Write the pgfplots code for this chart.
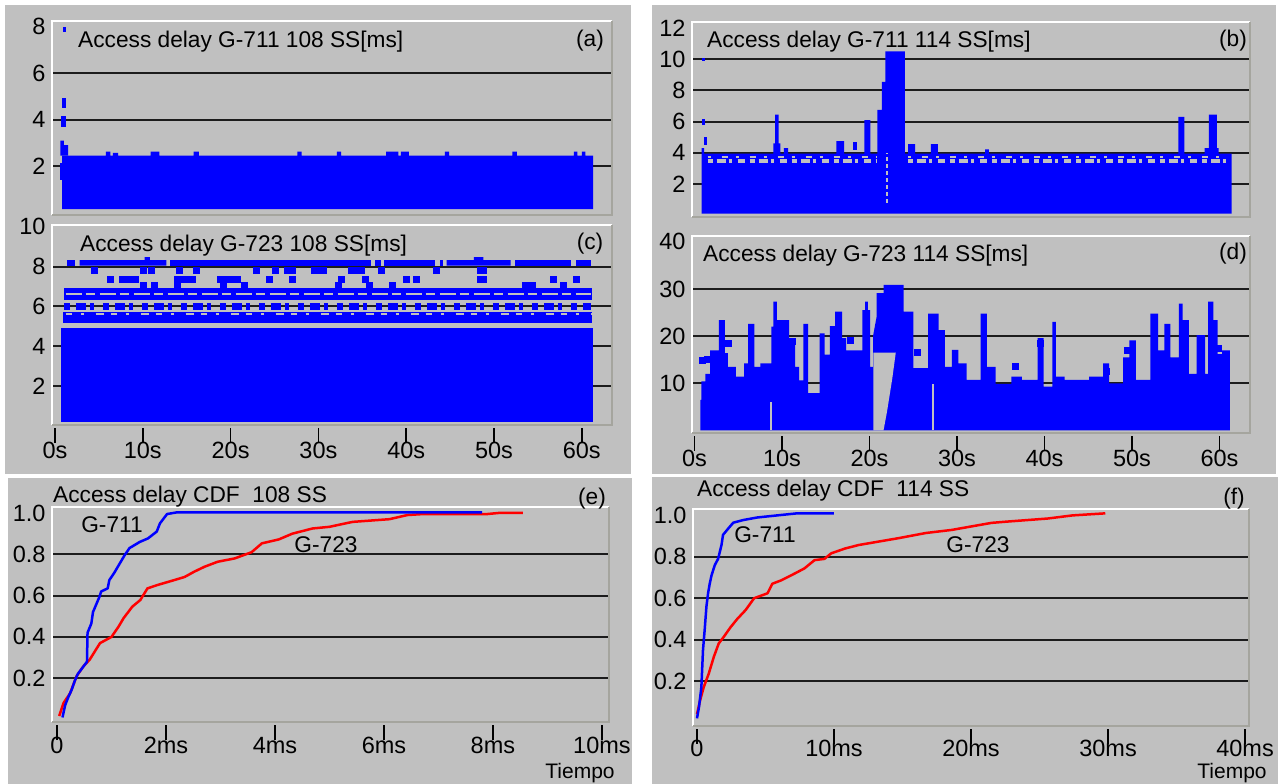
\documentclass[border=0pt]{standalone}
\usepackage{fontspec}
\setmainfont{Liberation Sans}
\usepackage{pgfplots}
\pgfplotsset{compat=1.18}
\definecolor{bg}{RGB}{192,192,192}
\definecolor{gridc}{RGB}{28,28,28}
\definecolor{fr}{RGB}{165,165,158}
\definecolor{pblue}{RGB}{0,0,255}
\definecolor{pred}{RGB}{255,0,0}
\newcommand\ttl{\fontsize{22.7}{26}\selectfont}
\newcommand\tkl{\fontsize{23.5}{27}\selectfont}
\pgfplotsset{
  panel/.style={
    scale only axis, clip=false,
    axis line style={draw=none},
    tick label style={font=\tkl, text=black},
    /pgf/number format/assume math mode=true,
    ytick style={draw=none},
    xtick pos=left,
    xtick style={draw=black, line width=1.5pt, yshift=-18pt},
    major tick length=15pt,
    yticklabel style={xshift=-3pt},
    extra y tick labels={},
    extra y tick style={grid=major, major tick length=0pt},
    grid style={draw=gridc, line width=2pt},
    execute at end axis={
      \draw[white, line width=1.6pt] (rel axis cs:0,0) -- (rel axis cs:0,1) -- (rel axis cs:1,1);
      \draw[fr, line width=1.6pt] (rel axis cs:1,1) -- (rel axis cs:1,0) -- (rel axis cs:0,0);
    },
  },
  blk/.style={fill=pblue, draw=none, forget plot},
  gap/.style={fill=bg, draw=none, forget plot},
}
\begin{document}
\begin{tikzpicture}[x=1pt,y=1pt]
\useasboundingbox (0,0) rectangle (1282,784);
\fill[white] (0,0) rectangle (1282,784);
\fill[bg] (5,779) rectangle (631,310);
\fill[bg] (8,306) rectangle (632,0);
\fill[bg] (652,779) rectangle (1276,310);
\fill[bg] (652,307) rectangle (1278,0);

% ---------------- (a)
\begin{axis}[panel, at={(52pt,569pt)}, anchor=south west, width=560pt, height=194pt,
  xmin=-0.34, xmax=63.44, ymin=-0.1, ymax=8.24,
  xtick=\empty, ytick={2,4,6,8}, extra y ticks={2,4,6}]
\addplot[blk] coordinates {(0.8,0.15)(0.8,2.45)(5.8,2.45)(5.8,2.62)(6.3,2.62)(6.3,2.45)(6.6,2.45)(6.6,2.57)(7.2,2.57)(7.2,2.45)(10.9,2.45)(10.9,2.62)(11.9,2.62)(11.9,2.45)(15.8,2.45)(15.8,2.62)(16.4,2.62)(16.4,2.45)(27.6,2.45)(27.6,2.62)(28.1,2.62)(28.1,2.45)(32.1,2.45)(32.1,2.62)(32.6,2.62)(32.6,2.45)(37.7,2.45)(37.7,2.62)(39.1,2.62)(39.1,2.45)(39.4,2.45)(39.4,2.62)(40.3,2.62)(40.3,2.45)(44.4,2.45)(44.4,2.62)(44.9,2.62)(44.9,2.45)(52.1,2.45)(52.1,2.62)(52.6,2.62)(52.6,2.45)(59.1,2.45)(59.1,2.62)(59.5,2.62)(59.5,2.45)(60.0,2.45)(60.0,2.62)(60.4,2.62)(60.4,2.45)(61.3,2.45)(61.3,0.15)};
\addplot[blk] coordinates {(0.55,1.4)(0.55,2.15)(0.85,2.15)(0.85,1.4)};
\addplot[blk] coordinates {(0.6,2.45)(0.6,3.1)(1.0,3.1)(1.0,2.9)(1.5,2.9)(1.5,2.45)};
\addplot[blk] coordinates {(0.7,3.7)(0.7,4.15)(1.2,4.15)(1.2,3.7)};
\addplot[blk] coordinates {(0.8,4.5)(0.8,4.95)(1.3,4.95)(1.3,4.5)};
\addplot[blk] coordinates {(0.9,7.75)(0.9,8.0)(1.2,8.0)(1.2,7.75)};
\end{axis}

% ---------------- (c)
\begin{axis}[panel, at={(52pt,359pt)}, anchor=south west, width=560pt, height=200pt,
  xmin=-0.34, xmax=63.44, ymin=0.04, ymax=10.09,
  xtick={0,10,20,30,40,50,60}, xticklabels={0s,10s,20s,30s,40s,50s,60s},
  xticklabel style={yshift=-14pt},
  ytick={2,4,6,8,10}, extra y ticks={2,4,6,8}]
\addplot[blk] coordinates {(0.7,0.2)(0.7,4.9)(61.3,4.9)(61.3,0.2)};
\addplot[blk] coordinates {(0.9,5.15)(0.9,5.72)(61.2,5.72)(61.2,5.15)};
\addplot[bg, line width=2.5pt, dash pattern=on 6pt off 9pt on 3pt off 12pt on 8pt off 7pt, forget plot] coordinates {(1.2,5.62)(61.0,5.62)};
\addplot[pblue, line width=7pt, dash pattern=on 6pt off 6pt on 10pt off 4pt on 4pt off 9pt, forget plot] coordinates {(1.0,5.98)(61.0,5.98)};
\addplot[blk] coordinates {(1.0,6.32)(1.0,6.9)(61.2,6.9)(61.2,6.32)};
\addplot[bg, line width=2.5pt, dash pattern=on 16pt off 4pt on 9pt off 5pt, forget plot] coordinates {(1.2,6.62)(61.0,6.62)};
\addplot[only marks, mark=square*, mark size=3pt, pblue, forget plot] coordinates {
(4.43,7.83)(10.0,7.83)(11.0,7.83)(14.2,7.83)(16.05,7.83)(22.9,7.83)(25.1,7.83)(26.5,7.83)(27.0,7.83)(29.5,7.83)(30.0,7.83)(30.5,7.83)(33.7,7.83)(34.2,7.83)(34.9,7.83)(37.2,7.83)(43.4,7.83)(48.4,7.83)(48.8,7.83)
(6.29,7.36)(7.7,7.36)(8.4,7.36)(9.08,7.36)(13.96,7.36)(14.6,7.36)(15.2,7.36)(15.6,7.36)(18.8,7.36)(19.4,7.36)(20.0,7.36)(20.7,7.36)(24.4,7.36)(27.0,7.36)(32.55,7.36)(35.3,7.36)(40.0,7.36)(41.15,7.36)(48.4,7.36)(48.8,7.36)(56.7,7.36)(59.4,7.36)
(10.0,7.05)(11.3,7.05)(13.96,7.05)(19.2,7.05)(21.5,7.05)(32.3,7.05)(35.8,7.05)(38.4,7.05)(53.5,7.05)(54.4,7.05)(57.9,7.05)};
\addplot[blk] coordinates {(1.4,8.05)(1.4,8.33)(2.3,8.33)(2.3,8.05)};
\addplot[blk] coordinates {(2.8,8.05)(2.8,8.33)(10.2,8.33)(10.2,8.48)(10.8,8.48)(10.8,8.33)(12.7,8.33)(12.7,8.05)};
\addplot[blk] coordinates {(13.1,8.05)(13.1,8.33)(36.0,8.33)(36.0,8.05)};
\addplot[blk] coordinates {(36.5,8.05)(36.5,8.33)(37.1,8.33)(37.1,8.05)};
\addplot[blk] coordinates {(37.5,8.05)(37.5,8.33)(43.3,8.33)(43.3,8.05)};
\addplot[blk] coordinates {(43.8,8.05)(43.8,8.33)(44.2,8.33)(44.2,8.05)};
\addplot[blk] coordinates {(44.6,8.05)(44.6,8.33)(47.7,8.33)(47.7,8.48)(48.8,8.48)(48.8,8.33)(51.9,8.33)(51.9,8.05)};
\addplot[blk] coordinates {(52.4,8.05)(52.4,8.33)(58.8,8.33)(58.8,8.05)};
\addplot[blk] coordinates {(59.3,8.05)(59.3,8.33)(61.0,8.33)(61.0,8.05)};
\end{axis}

% ---------------- (b)
\begin{axis}[panel, at={(692pt,567pt)}, anchor=south west, width=558pt, height=195pt,
  xmin=-0.29, xmax=63.49, ymin=-0.12, ymax=12.39,
  xtick=\empty, ytick={2,4,6,8,10,12}, extra y ticks={2,4,6,8,10}]
\addplot[blk] coordinates {(0.8,0.1)(0.8,4.3)(1.1,4.3)(1.1,3.95)(9.0,3.95)(9.0,4.6)(9.2,4.6)(9.2,6.45)(9.6,6.45)(9.6,4.6)(9.8,4.6)(9.8,3.95)(10.2,3.95)(10.2,4.3)(10.7,4.3)(10.7,3.95)(16.2,3.95)(16.2,4.75)(17.1,4.75)(17.1,3.95)(19.4,3.95)(19.4,6.1)(20.1,6.1)(20.1,3.95)(20.9,3.95)(20.9,6.75)(21.4,6.75)(21.4,8.55)(21.8,8.55)(21.8,10.5)(24.05,10.5)(24.05,3.95)(24.4,3.95)(24.4,4.55)(25.2,4.55)(25.2,3.95)(27.0,3.95)(27.0,4.55)(27.8,4.55)(27.8,3.95)(33.2,3.95)(33.2,4.22)(33.65,4.22)(33.65,3.95)(55.3,3.95)(55.3,6.3)(56.0,6.3)(56.0,3.95)(58.3,3.95)(58.3,4.3)(58.8,4.3)(58.8,6.45)(59.7,6.45)(59.7,4.3)(59.9,4.3)(59.9,3.95)(61.4,3.95)(61.4,0.1)};
\addplot[blk] coordinates {(0.8,5.8)(0.8,6.15)(1.2,6.15)(1.2,5.8)};
\addplot[blk] coordinates {(1.05,4.5)(1.05,5.0)(1.45,5.0)(1.45,4.5)};
\addplot[blk] coordinates {(0.85,9.9)(0.85,10.1)(1.15,10.1)(1.15,9.9)};
\addplot[blk] coordinates {(18.1,4.2)(18.1,4.7)(18.6,4.7)(18.6,4.2)};
\addplot[bg, line width=4pt, dash pattern=on 5pt off 4pt on 9pt off 3pt on 3pt off 6pt on 7pt off 5pt, forget plot] coordinates {(1.5,3.45)(20.8,3.45)};
\addplot[bg, line width=4pt, dash pattern=on 5pt off 4pt on 9pt off 3pt on 3pt off 6pt on 7pt off 5pt, forget plot] coordinates {(24.4,3.45)(61.0,3.45)};
\addplot[bg, line width=2pt, dash pattern=on 3pt off 11pt on 6pt off 8pt, forget plot] coordinates {(1.5,3.75)(20.8,3.75)};
\addplot[bg, line width=2pt, dash pattern=on 3pt off 11pt on 6pt off 8pt, forget plot] coordinates {(24.4,3.75)(61.0,3.75)};
\addplot[bg, line width=1.5pt, dash pattern=on 4pt off 3pt, forget plot] coordinates {(22.0,0.8)(22.0,4.0)};
\end{axis}

% ---------------- (d)
\begin{axis}[panel, at={(692pt,351pt)}, anchor=south west, width=558pt, height=197pt,
  xmin=-0.29, xmax=63.49, ymin=-0.54, ymax=41.24,
  xtick={0,10,20,30,40,50,60}, xticklabels={0s,10s,20s,30s,40s,50s,60s},
  xticklabel style={yshift=-14pt},
  ytick={10,20,30,40}, extra y ticks={10,20,30}]
\addplot[blk] coordinates {(0.68,0)(0.68,6.5)(0.77,6.5)(0.77,10.4)(1.23,10.4)(1.23,12.0)(1.79,12.0)(1.79,17.0)(2.77,17.0)(2.77,23.4)(3.47,23.4)(3.47,16.4)(3.8,16.4)(3.8,13.5)(4.73,13.5)(4.73,11.4)(5.67,11.4)(5.67,14.2)(6.13,14.2)(6.13,22.6)(6.83,22.6)(6.83,13.5)(7.53,13.5)(7.53,14.2)(8.79,14.2)(8.79,22)(9.0,22)(9.0,27.3)(9.4,27.3)(9.4,23.4)(10.8,23.4)(10.8,19.2)(11.5,19.2)(11.5,13.5)(11.96,13.5)(11.96,10.6)(12.43,10.6)(12.43,22.6)(12.99,22.6)(12.99,7.9)(14.3,7.9)(14.3,20.6)(14.86,20.6)(14.86,16.1)(15.46,16.1)(15.46,22.1)(16.07,22.1)(16.07,25.2)(16.86,25.2)(16.86,19.6)(17.33,19.6)(17.33,17.0)(19.19,17.0)(19.19,25.5)(19.5,25.5)(19.5,27.3)(19.8,27.3)(19.8,25.5)(20.06,25.5)(20.06,13.5)(20.4,13.5)(20.4,20)(20.8,24)(20.8,29.1)(21.6,29.1)(21.6,30.85)(23.9,30.85)(23.9,25.2)(25.0,25.2)(25.0,13.2)(26.7,13.2)(26.7,24.8)(27.9,24.8)(27.9,21.3)(28.6,21.3)(28.6,13.5)(29.4,13.5)(29.4,17.1)(30.15,17.1)(30.15,14.2)(31.1,14.2)(31.1,10.7)(32.7,10.7)(32.7,24.8)(33.4,24.8)(33.4,13.5)(34.4,13.5)(34.4,9.9)(36.2,9.9)(36.2,11.4)(37.4,11.4)(37.4,10.7)(39.2,10.7)(39.2,19.6)(39.9,19.6)(39.9,9.3)(40.9,9.3)(40.9,23)(41.3,23)(41.3,11.4)(42.3,11.4)(42.3,10.7)(45.1,10.7)(45.1,11.4)(46.7,11.4)(46.7,14.2)(47.4,14.2)(47.4,10)(49.0,10)(49.0,15.5)(49.7,15.5)(49.7,19.1)(50.45,19.1)(50.45,10.7)(52.1,10.7)(52.1,24.8)(53.0,24.8)(53.0,17)(53.7,17)(53.7,22.6)(54.4,22.6)(54.4,15.5)(55.35,15.5)(55.35,26.9)(55.8,26.9)(55.8,23.4)(56.5,23.4)(56.5,12)(57.4,12)(57.4,20.2)(58.35,20.2)(58.35,12)(58.7,12)(58.7,27.3)(59.3,27.3)(59.3,23.4)(59.8,23.4)(59.8,14.8)(60.3,14.8)(60.3,17)(61.2,17)(61.2,0)};
\addplot[gap] coordinates {(20.45,0)(20.45,16.5)(23.0,16.5)(22.6,11)(22.0,4)(21.6,0)};
\addplot[gap] coordinates {(27.1,0)(27.1,9.8)(27.4,9.8)(27.4,0)};
\addplot[gap] coordinates {(8.65,0)(8.65,6)(8.8,6)(8.8,0)};
\addplot[only marks, mark=square*, mark size=3pt, pblue, forget plot] coordinates {(0.9,14.8)(1.5,15.2)(3.9,18.6)(11.2,18.9)(17.8,19.2)(25.5,16.5)(36.6,13.7)(39.5,18.5)(47.0,12.5)(49.4,17.0)(60.0,15.5)(59.9,17.5)};
\end{axis}

% ---------------- (e)
\begin{axis}[panel, at={(52pt,62pt)}, anchor=south west, width=557pt, height=215pt,
  xmin=-0.092, xmax=10.13, ymin=-0.012, ymax=1.029,
  xtick={0,2,4,6,8,10}, xticklabels={0,2ms,4ms,6ms,8ms,10ms},
  xticklabel style={yshift=-12pt},
  ytick={0.2,0.4,0.6,0.8,1.0}, yticklabels={0.2,0.4,0.6,0.8,1.0},
  extra y ticks={0.2,0.4,0.6,0.8}]
\addplot[pred, line width=2.5pt, line join=round] coordinates {(0.04,0.017)(0.12,0.08)(0.24,0.127)(0.36,0.21)(0.48,0.256)(0.6,0.29)(0.73,0.345)(0.79,0.37)(1.0,0.40)(1.13,0.45)(1.22,0.49)(1.38,0.546)(1.53,0.579)(1.66,0.635)(1.84,0.651)(2.15,0.675)(2.34,0.69)(2.52,0.716)(2.71,0.74)(2.95,0.764)(3.26,0.78)(3.57,0.81)(3.76,0.853)(4.07,0.872)(4.32,0.90)(4.69,0.925)(5.0,0.933)(5.3,0.95)(5.43,0.957)(6.1,0.97)(6.43,0.99)(6.73,0.995)(7.9,0.995)(8.1,1.0)(8.55,1.0)};
\addplot[pblue, line width=2.5pt, line join=round] coordinates {(0.1,0.01)(0.15,0.07)(0.21,0.11)(0.27,0.145)(0.33,0.19)(0.38,0.22)(0.48,0.255)(0.55,0.28)(0.56,0.42)(0.63,0.465)(0.66,0.52)(0.78,0.595)(0.81,0.62)(0.93,0.635)(0.96,0.675)(1.05,0.71)(1.15,0.755)(1.24,0.795)(1.33,0.83)(1.52,0.86)(1.67,0.877)(1.83,0.91)(1.89,0.95)(2.02,0.995)(2.2,1.003)(7.8,1.003)};
\end{axis}

% ---------------- (f)
\begin{axis}[panel, at={(693pt,58pt)}, anchor=south west, width=556pt, height=217pt,
  xmin=-0.29, xmax=40.29, ymin=-0.017, ymax=1.031,
  xtick={0,10,20,30,40}, xticklabels={0,10ms,20ms,30ms,40ms},
  xticklabel style={yshift=-11pt},
  ytick={0.2,0.4,0.6,0.8,1.0}, yticklabels={0.2,0.4,0.6,0.8,1.0},
  extra y ticks={0.2,0.4,0.6,0.8}]
\addplot[pred, line width=2.5pt, line join=round] coordinates {(0,0.04)(0.24,0.11)(0.49,0.17)(0.86,0.236)(1.23,0.317)(1.59,0.382)(1.96,0.414)(2.45,0.46)(2.94,0.50)(3.55,0.543)(4.17,0.60)(5.15,0.624)(5.5,0.67)(6.13,0.686)(6.86,0.71)(7.84,0.744)(8.58,0.784)(9.3,0.79)(9.8,0.817)(10.8,0.84)(11.8,0.857)(13.2,0.873)(14.7,0.89)(16.7,0.915)(18.6,0.93)(20.3,0.95)(21.5,0.964)(22.6,0.97)(25.6,0.985)(27.4,1.0)(29.8,1.01)};
\addplot[pblue, line width=2.5pt, line join=round] coordinates {(0,0.02)(0.15,0.076)(0.32,0.17)(0.44,0.35)(0.56,0.446)(0.69,0.56)(0.81,0.624)(0.93,0.67)(1.06,0.71)(1.3,0.76)(1.54,0.79)(1.79,0.857)(1.9,0.906)(2.3,0.938)(2.65,0.965)(3.4,0.978)(4.4,0.99)(5.84,1.0)(7.3,1.01)(10,1.01)};
\end{axis}

% ---------------- texts
\node[anchor=base west, inner sep=0, font=\ttl] at (78,736) {Access delay G-711 108 SS[ms]};
\node[anchor=base, inner sep=0, font=\ttl] at (590,737) {(a)};
\node[anchor=base west, inner sep=0, font=\ttl] at (707,736) {Access delay G-711 114 SS[ms]};
\node[anchor=base, inner sep=0, font=\ttl] at (1233,737) {(b)};
\node[anchor=base west, inner sep=0, font=\ttl] at (80,532) {Access delay G-723 108 SS[ms]};
\node[anchor=base, inner sep=0, font=\ttl] at (590,534) {(c)};
\node[anchor=base west, inner sep=0, font=\ttl] at (703,522) {Access delay G-723 114 SS[ms]};
\node[anchor=base, inner sep=0, font=\ttl] at (1233,524) {(d)};
\node[anchor=base west, inner sep=0, font=\ttl] at (53,281) {Access delay CDF\ \ 108 SS};
\node[anchor=base, inner sep=0, font=\ttl] at (592,279) {(e)};
\node[anchor=base west, inner sep=0, font=\ttl] at (697,287) {Access delay CDF\ \ 114 SS};
\node[anchor=base, inner sep=0, font=\ttl] at (1234,279) {(f)};
\node[anchor=base, inner sep=0, font=\ttl] at (112,251) {G-711};
\node[anchor=base, inner sep=0, font=\ttl] at (326,231) {G-723};
\node[anchor=base, inner sep=0, font=\ttl] at (765,241) {G-711};
\node[anchor=base, inner sep=0, font=\ttl] at (978,231) {G-723};
\node[anchor=base, inner sep=0, font=\fontsize{21}{24}\selectfont] at (580,5) {Tiempo};
\node[anchor=base, inner sep=0, font=\fontsize{21}{24}\selectfont] at (1232,5) {Tiempo};
\end{tikzpicture}
\end{document}
